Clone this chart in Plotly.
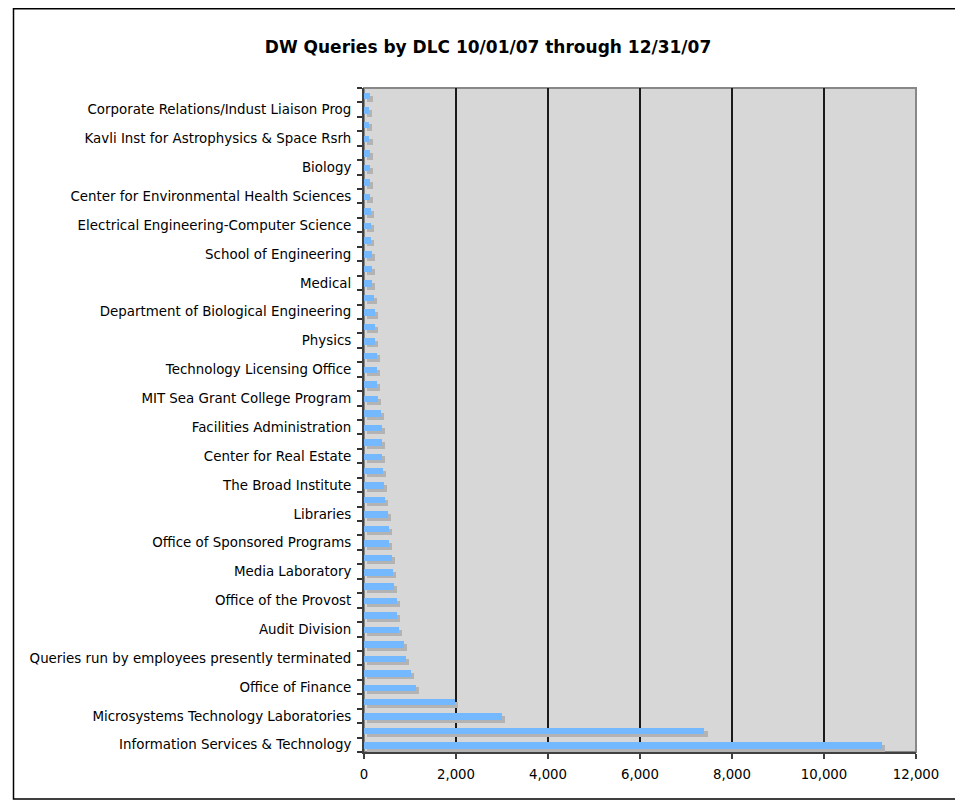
import plotly.graph_objects as go

# Query counts per DLC, listed from the bottom row (index 0) to the top row (index 45)
query_counts = [
    11250, 7400, 3000, 1980, 1130, 1020, 910, 870, 760, 720,
    720, 650, 630, 610, 545, 545, 520, 455, 435, 415,
    390, 390, 390, 370, 305, 280, 280, 280, 240, 240,
    240, 215, 175, 175, 175, 150, 150, 150, 130, 130,
    130, 130, 115, 110, 110, 120,
]

# Labels shown on every other row (bottom to top, rows 0, 2, 4, ...)
row_labels = [
    "Information Services & Technology",
    "Microsystems Technology Laboratories",
    "Office of Finance",
    "Queries run by employees presently terminated",
    "Audit Division",
    "Office of the Provost",
    "Media Laboratory",
    "Office of Sponsored Programs",
    "Libraries",
    "The Broad Institute",
    "Center for Real Estate",
    "Facilities Administration",
    "MIT Sea Grant College Program",
    "Technology Licensing Office",
    "Physics",
    "Department of Biological Engineering",
    "Medical",
    "School of Engineering",
    "Electrical Engineering-Computer Science",
    "Center for Environmental Health Sciences",
    "Biology",
    "Kavli Inst for Astrophysics & Space Rsrh",
    "Corporate Relations/Indust Liaison Prog",
]

x_ticks = [0, 2000, 4000, 6000, 8000, 10000, 12000]

title_text = "DW Queries by DLC 10/01/07 through 12/31/07"

FONT = "DejaVu Sans, Verdana, sans-serif"
BLUE = "#74B9FF"
SHADOW = "#B3B3B3"

rows = list(range(len(query_counts)))
label_rows = rows[0::2][: len(row_labels)]

# figure is placed 8px in from the page corner (body margin)
W, H = 955, 792
L, R, T, B = 356, 47, 80, 48
pw, ph = W - L - R, H - T - B

fig = go.Figure()

# 3D-style shadow behind each bar
fig.add_trace(go.Bar(
    y=rows, x=[v + 10 for v in query_counts], base=60, orientation="h",
    width=0.45, offset=-0.475, marker=dict(color=SHADOW, line=dict(width=0)),
    hoverinfo="skip", showlegend=False,
))
fig.add_trace(go.Bar(
    y=rows, x=query_counts, orientation="h",
    width=0.45, offset=-0.275, marker=dict(color=BLUE, line=dict(width=0)),
    showlegend=False,
))

def px_to_paper_x(px):
    return (px - L) / pw

def px_to_paper_y(py):
    return (H - B - py) / ph

fig.update_layout(
    width=W, height=H,
    margin=dict(l=L, r=R, t=T, b=B, pad=0),
    paper_bgcolor="white",
    plot_bgcolor="#D7D7D7",
    barmode="overlay",
    bargap=0,
    font=dict(family=FONT, size=12, color="black"),
    title=dict(
        text="<b>" + title_text + "</b>",
        x=480 / W, xanchor="center", xref="container",
        y=1 - 39 / H, yanchor="middle", yref="container",
        font=dict(family=FONT, size=17, color="black"),
    ),
    xaxis=dict(
        range=[0, 12000], tickvals=x_ticks, tickformat=",d",
        showgrid=True, gridcolor="#1a1a1a", gridwidth=1.5,
        zeroline=False, showline=True, linecolor="#404040", linewidth=2,
        ticks="outside", ticklen=5, tickcolor="#404040", tickwidth=1.5,
        ticklabelstandoff=4,
        tickfont=dict(family=FONT, size=13.3, color="black"),
    ),
    yaxis=dict(
        range=[-0.5, len(query_counts) - 0.5],
        tickmode="array", tickvals=label_rows, ticktext=row_labels,
        ticks="", showgrid=False, zeroline=False,
        showline=True, linecolor="#404040", linewidth=2,
        ticklabelstandoff=8,
        tickfont=dict(family=FONT, size=13.4, color="black"),
        minor=dict(
            tickmode="array", tickvals=[r - 0.5 for r in rows] + [len(rows) - 0.5],
            ticks="outside", ticklen=5, tickcolor="#333333", tickwidth=1.5,
            showgrid=False,
        ),
    ),
    shapes=[
        dict(type="rect", xref="paper", yref="paper", x0=0, x1=1, y0=0, y1=1,
             line=dict(color="#888888", width=2), fillcolor="rgba(0,0,0,0)",
             layer="below"),
        dict(type="rect", xref="paper", yref="paper",
             x0=px_to_paper_x(5.5), x1=px_to_paper_x(951),
             y0=px_to_paper_y(791), y1=px_to_paper_y(0.75),
             line=dict(color="black", width=1.5), fillcolor="rgba(0,0,0,0)"),
    ],
)

fig.write_html("out.html")
